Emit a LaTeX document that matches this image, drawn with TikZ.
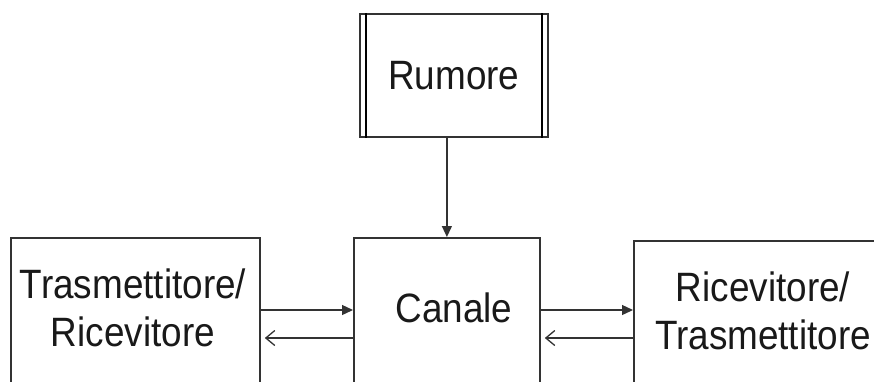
\documentclass[tikz,border=0pt]{standalone}
\usepackage{fontspec}
\setmainfont{Liberation Sans}[FakeStretch=0.9]
\usetikzlibrary{arrows.meta}

\tikzset{
  blocco/.style={draw=black!80, line width=1.8pt, inner sep=0pt},
  testo/.style={font=\fontsize{41}{48}\selectfont, align=center, text=black!90, inner sep=0pt},
  freccia/.style={-{Triangle[length=11pt,width=10pt]}, line width=1.3pt, draw=black!80},
  ritorno/.style={-{Straight Barb[length=9pt,width=15pt,sep=4pt]}, line width=1.3pt, draw=black!80},
}

\begin{document}
\begin{tikzpicture}[x=1pt,y=1pt]
            \useasboundingbox (0,0) rectangle (874,-381);
            \clip (0,0) rectangle (874,-381);
            \node[blocco, minimum width=188pt, minimum height=123pt, anchor=north west, testo] (rumore) at (359,-13) {Rumore};
            \node[blocco, minimum width=249pt, minimum height=180pt, anchor=north west] (tx) at (10,-237) {};
            \node[blocco, minimum width=186pt, minimum height=180pt, anchor=north west] (canale) at (353,-237) {};
            \node[blocco, minimum width=280pt, minimum height=180pt, anchor=north west] (rx) at (633,-240) {};
            \draw[line width=1.4pt] ([xshift=7pt]rumore.north west) -- ([xshift=7pt]rumore.south west);
            \draw[line width=1.4pt] ([xshift=-7pt]rumore.north east) -- ([xshift=-7pt]rumore.south east);
            \node[testo] (txtesto) at (133,-308) {Trasmettitore/\\Ricevitore};
            \node[testo] (canaletesto) at (454,-308) {Canale};
            \node[testo] (rxtesto) at (763,-311) {Ricevitore/\\Trasmettitore};
            \draw[freccia] (canale.north |- rumore.south) -- (canale.north);
            \draw[freccia] ([yshift=-73pt]tx.north east) -- ([yshift=-73pt]canale.north west);
            \draw[ritorno] ([yshift=-101pt]canale.north west) -- ([yshift=-101pt]tx.north east);
            \draw[freccia] ([yshift=-73pt]canale.north east) -- ([yshift=-70pt]rx.north west);
            \draw[ritorno] ([yshift=-98pt]rx.north west) -- ([yshift=-101pt]canale.north east);
        \end{tikzpicture}
\end{document}
